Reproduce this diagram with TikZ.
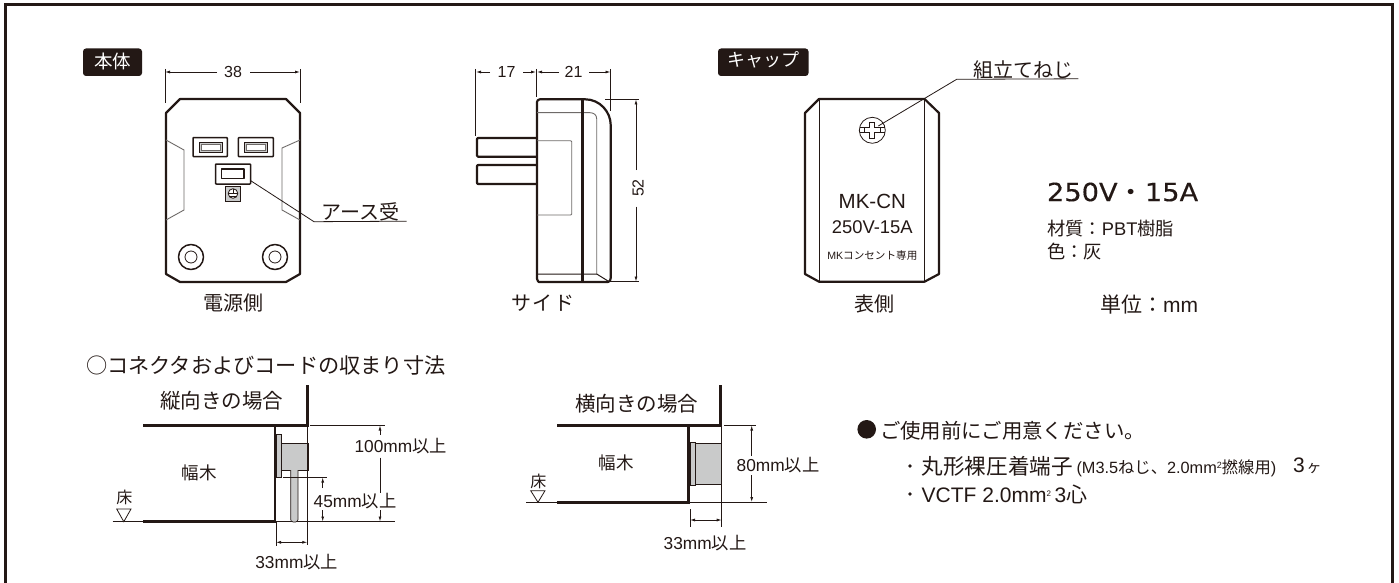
\documentclass[tikz,border=0pt]{standalone}
\usepackage{fontspec}
\setmainfont{Liberation Sans}
\newfontfamily\jp{Noto Sans CJK JP}
\newfontfamily\wide[FakeBold=0.3]{DejaVu Sans}
\usetikzlibrary{arrows.meta}
\definecolor{ink}{HTML}{231815}
\definecolor{gy}{HTML}{C9CACA}
\definecolor{dg}{HTML}{6E6A68}
\newcommand{\fs}[1]{\fontsize{#1}{#1}\selectfont}
\newcommand{\jtxt}[1]{{\jp #1}}
\tikzset{
  x=1pt,y=-1pt,
  every node/.style={inner sep=0pt,outer sep=0pt,text=ink},
  thickl/.style={draw=ink,line width=2.2pt,line join=round},
  midl/.style={draw=ink,line width=1.5pt,line join=round},
  thinl/.style={draw=ink,line width=.8pt},
  greyl/.style={draw=dg,line width=.9pt},
  wall/.style={draw=ink,line width=2.8pt},
  dim/.style={draw=ink,line width=.8pt,{Latex[length=5pt,width=3pt]}-{Latex[length=5pt,width=3pt]}},
  dimend/.style={draw=ink,line width=.8pt,-{Latex[length=5pt,width=3pt]}},
  tagbox/.style={fill=ink,rounded corners=3pt},
  lab/.style={font=\fs{20}\jp},
  dimt/.style={font=\fs{16}},
  plate/.style={fill=gy,draw=ink,line width=.7pt},
}
\begin{document}
\begin{tikzpicture}
\useasboundingbox (0,0) rectangle (1399,583);
\fill[white] (0,0) rectangle (1399,583);
\draw[draw=ink,line width=3pt] (5.5,590)--(5.5,4.5)--(1392,4.5)--(1392,590);

% ---------- main body, power side
\fill[tagbox] (83,48.5) rectangle (142,76);
\node[font=\fs{18.5}\jp,text=white] (tagA) at (112.5,61) {本体};
\draw[thickl] (180,99)--(286,99)--(300,113)--(300,274)--(286,282)--(180,282)--(166,274)--(166,113)--cycle;
\draw[greyl] (166,140)--(184,150)--(184,210)--(166,220);
\draw[greyl] (300,140)--(282,148)--(282,210)--(300,220);
\draw[midl,rounded corners=.8pt] (193,137.5) rectangle (227.3,156.7);
\draw[midl,rounded corners=.8pt] (238.3,137.5) rectangle (273.3,156.7);
\draw[thinl,fill=gy] (199,142.5) rectangle (222.3,152);
\draw[greyl,fill=white] (201,144.5) rectangle (220.3,150);
\draw[thinl,fill=gy] (244,142.5) rectangle (267.7,152);
\draw[greyl,fill=white] (246,144.5) rectangle (265.7,150);
\draw[midl,rounded corners=.8pt] (215.5,164) rectangle (250.7,184);
\draw[midl] (221.7,169) rectangle (244,178.3);
\node[draw=ink,line width=.6pt,fill=gy,minimum size=15pt] (earth) at (233,194) {};
\draw[thinl,fill=white] (233,193.5) circle (4.8);
\draw[thinl] (228.2,193.5)--(237.8,193.5) (233,189)--(233,193.5) (229.5,196)--(236.5,196);
\foreach \cx in {191,275}{
  \draw[midl] (\cx,257) circle (12.5);
  \draw[thinl] (\cx,257) circle (6);
}
\coordinate (earthend) at (250.7,180.7);
\coordinate (earthknee) at (314,221.7);
\node[lab,anchor=south,minimum width=92pt] (earthlab) at (360.5,221.2) {アース受};
\draw[thinl] (earthend)--(earthknee)--(earthlab.south east);
\node[lab] (l1) at (233,303) {電源側};
% dim 38
\draw[thinl] (165,69)--(165,103) (300,69)--(300,103);
\node[dimt] (d38) at (233,72) {38};
\draw[dimend] (217,72)--(165,72);
\draw[dimend] (250,72)--(300,72);

% ---------- side view
\draw[thickl,rounded corners=1pt] (536.5,138)--(477,138)--(477,156.7)--(536.5,156.7);
\draw[thickl,rounded corners=1pt] (536.5,165)--(477,165)--(477,184)--(536.5,184);
\draw[thickl] (608,282)--(539,282) to[out=180,in=90] (537,279)--(537,102) to[out=90,in=180] (540,99.3)--(585,99.3) .. controls (600,99.3) and (610.7,112) .. (610.7,125)--(610.7,278) to[out=-90,in=0] (608,282);
\draw[greyl,rounded corners=1pt] (537,140.7)--(571.7,140.7)--(571.7,215)--(537,215);
\draw[greyl] (537,112.7)--(590,112.7) .. controls (594,112.7) and (596.7,115) .. (596.7,119)--(596.7,274);
\draw[midl,line width=1pt] (537,274)--(596.7,274)--(608,281);
\draw[draw=ink,line width=3.5pt] (582.7,99)--(582.7,282);
\draw[thinl] (475.7,69)--(475.7,136) (536,69)--(536,97) (610.7,69)--(610.7,110.7);
\node[dimt] (d17) at (506.5,72) {17};
\node[dimt] (d21) at (573.5,72) {21};
\draw[dimend] (490,72)--(476,72);
\draw[dimend] (523,72)--(536,72);
\draw[dimend] (559,72)--(537,72);
\draw[dimend] (589,72)--(610.5,72);
\draw[thinl] (605,99.3)--(639,99.3) (610,281.7)--(639,281.7);
\node[dimt,rotate=90] (d52) at (638,188) {52};
\draw[dimend] (636,170)--(636,99.5);
\draw[dimend] (636,206.7)--(636,281.5);
\node[lab] (l2) at (542.7,303) {サ\hspace{1.5pt}イ\hspace{1.5pt}ド};

% ---------- cap
\fill[tagbox] (718,48.5) rectangle (808.5,76);
\node[font=\fs{18}\jp,text=white] (tagB) at (763,60) {キャップ};
\draw[thickl] (819,99)--(924.5,99)--(939,113)--(939,274)--(924.5,281.7)--(819,281.7)--(805,274)--(805,113)--cycle;
\draw[midl,line width=1pt] (819,99)--(819,281.7) (924.5,99)--(924.5,281.7);
\node[draw=ink,line width=.8pt,circle,minimum size=26pt] (screw) at (872.3,130.3) {};
\draw[thinl] (859.5,127.8)--(885,127.8) (859.5,132.8)--(885,132.8);
\draw[thinl,fill=white] (869.8,122)--(874.8,122)--(874.8,127.8)--(880,127.8)--(880,132.8)--(874.8,132.8)--(874.8,138.5)--(869.8,138.5)--(869.8,132.8)--(864.6,132.8)--(864.6,127.8)--(869.8,127.8)--cycle;
\coordinate (screwknee) at (956.7,79.3);
\node[lab,anchor=south,minimum width=121.6pt] (screwlab) at (1017.5,78.8) {\hspace{12pt}組立てねじ};
\draw[thinl] (878.3,126)--(screwknee)--(screwlab.south east);
\node[font=\fs{20.5}] (c1) at (872.3,201.3) {MK-CN};
\node[font=\fs{18.4}] (c2) at (872.3,227.3) {250V-15A};
\node[font=\fs{10.6}] (c3) at (872.3,255.3) {MK\jtxt{コンセント専用}};
\node[lab] (l3) at (874,304) {表側};
% ratings
\node[font=\fs{25}\wide,anchor=west,xscale=1.09] (rate) at (1047,192) {250V\jtxt{・}15A};
\node[font=\fs{18.3},anchor=west] (mat) at (1047,229) {\jtxt{材質：}PBT\jtxt{樹脂}};
\node[font=\fs{18.3},anchor=west] (col) at (1047,251.7) {\jtxt{色：灰}};
\node[font=\fs{21},anchor=east] (unit) at (1198,305) {\jtxt{単位：}mm};

% ---------- heading
\node[font=\fs{21.2}\jp,anchor=west] (head) at (86,365.7) {○コネクタおよびコードの収まり寸法};

% ---------- vertical fitting
\node[font=\fs{20.5}\jp] (v0) at (221.7,401) {縦向きの場合};
\draw[wall] (307.3,385)--(307.3,425.5)--(143.3,425.5);
\draw[wall] (275,425.5)--(275,521.7)--(143.3,521.7);
\draw[thinl] (112.7,521.7)--(143.3,521.7) (275,521.7)--(395,521.7);
\draw[plate] (276.5,434.3) rectangle (281.7,477.7);
\draw[plate] (281.7,443.7) rectangle (308.3,470);
\draw[plate,rounded corners=2.5pt] (290.7,470)--(290.7,522)--(298,522)--(298,470);
\draw[thinl] (307.3,426)--(307.3,545) (310,425.3)--(385,425.3) (283,477.3)--(327,477.3);
\node[font=\fs{17.3}] (v100) at (400.7,446) {100mm\jtxt{以上}};
\node[font=\fs{17.3}] (v45) at (355,501) {45mm\jtxt{以上}};
\node[font=\fs{17.3}] (v33) at (296.7,561.7) {33mm\jtxt{以上}};
\draw[dimend] (380,435)--(380,425.5);
\draw[thinl] (380,457.7)--(380,493);
\draw[dimend] (380,510)--(380,521.5);
\draw[dimend] (322.7,488)--(322.7,477.5);
\draw[dimend] (322.7,510)--(322.7,521.5);
\draw[thinl] (276,521.7)--(276,546);
\draw[dim] (276,542.3)--(307.3,542.3);
\node[font=\fs{17.5}\jp] (w1) at (199.3,473.3) {幅木};
\node[font=\fs{16}\jp] (f1) at (124.3,497.7) {床};
\draw[thinl,fill=white] (116.7,509)--(131,509)--(123.8,521.7)--cycle;

% ---------- horizontal fitting
\node[font=\fs{20.5}\jp] (h0) at (636.7,403.3) {横向きの場合};
\draw[wall] (720.7,385)--(720.7,425.7)--(556.7,425.7);
\draw[wall] (688.7,425.7)--(688.7,502.3)--(556.7,502.3);
\draw[thinl] (526,502.3)--(556.7,502.3) (688.7,502.3)--(767.3,502.3);
\draw[plate] (690.2,442) rectangle (695.3,485.3);
\draw[plate] (695.3,443.3) rectangle (721.3,484);
\draw[thinl] (721.7,426)--(721.7,527.3) (724,425.3)--(756,425.3);
\node[font=\fs{17.3}] (h80) at (778,465) {80mm\jtxt{以上}};
\node[font=\fs{17.3}] (h33) at (705,543.3) {33mm\jtxt{以上}};
\draw[dimend] (751.7,456)--(751.7,425.5);
\draw[dimend] (751.7,475)--(751.7,502);
\draw[thinl] (690,509.3)--(690,527.3);
\draw[dim] (690,520)--(721.7,520);
\node[font=\fs{17.5}\jp] (w2) at (616,463.3) {幅木};
\node[font=\fs{16}\jp] (f2) at (538.3,481.7) {床};
\draw[thinl,fill=white] (530.7,490.7)--(545,490.7)--(538,502.3)--cycle;

% ---------- notes
\fill[ink] (866.7,429.3) circle (9.3);
\node[font=\fs{20.4}\jp,anchor=west] (n0) at (880,430.7) {ご使用前にご用意ください。};
\fill[ink] (910,466) circle (1.8);
\fill[ink] (910,494) circle (1.8);
\node[anchor=west,font=\fs{21.6}\jp] (n1) at (921.7,466) {丸形裸圧着端子};
\node[anchor=west,font=\fs{16.3}] (n2) at (1076.5,468) {(M3.5\jtxt{ねじ、}2.0mm\raisebox{5pt}{\fs{9}2}\jtxt{撚線用})};
\node[anchor=west,font=\fs{21}] (n3) at (1293,466) {3\hspace{2pt}{\fs{15}\jtxt{ヶ}}};
\node[anchor=west,font=\fs{21}] (n4) at (921.7,494) {VCTF 2.0mm\raisebox{6pt}{\fs{8}2}\,3\jtxt{心}};
\end{tikzpicture}
\end{document}
